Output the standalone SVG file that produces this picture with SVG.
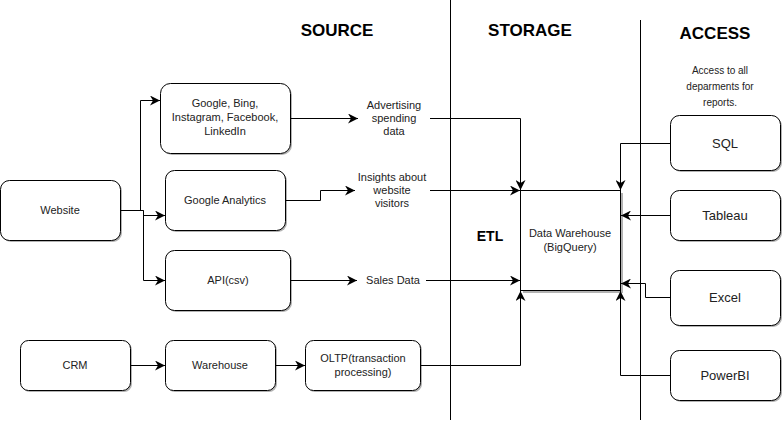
<svg xmlns="http://www.w3.org/2000/svg" width="783" height="422" viewBox="0 0 783 422">
<style>
.n{fill:#fff;stroke:#000;stroke-width:1}
.sh{fill:#b3b3b3;stroke:none}
.t{font-family:"Liberation Sans",Arial,sans-serif;font-size:11px;fill:#222;text-anchor:middle}
.tl{font-family:"Liberation Sans",Arial,sans-serif;font-size:13px;fill:#222;text-anchor:middle}
.h{font-family:"Liberation Sans",Arial,sans-serif;font-size:17px;font-weight:bold;fill:#000;text-anchor:middle}
.c{fill:none;stroke:#000;stroke-width:1}
</style>
<defs>
<marker id="a" viewBox="0 0 10 10" refX="10" refY="5" markerWidth="10" markerHeight="10" markerUnits="userSpaceOnUse" orient="auto">
<path d="M0,0 L10,5 L0,10 L3,5 Z" fill="#000"/>
</marker>
</defs>
<rect width="783" height="422" fill="#fff"/>
<g id="dividers">
<line x1="450.5" y1="0" x2="450.5" y2="420" stroke="#000"/>
<line x1="640.5" y1="20" x2="640.5" y2="420" stroke="#000"/>
</g>
<g id="titles">
<text class="h" x="337" y="36">SOURCE</text>
<text class="h" x="530" y="36">STORAGE</text>
<text class="h" x="715" y="39">ACCESS</text>
<text class="h" x="490" y="241" style="font-size:14px">ETL</text>
<text class="t" x="720" y="74" style="font-size:10px">Access to all</text>
<text class="t" x="720" y="90" style="font-size:10px">deparments for</text>
<text class="t" x="720" y="106" style="font-size:10px">reports.</text>
</g>
<g id="labels">
<text class="t" x="394" y="109">Advertising</text>
<text class="t" x="394" y="122">spending</text>
<text class="t" x="394" y="135">data</text>
<text class="t" x="392" y="181">Insights about</text>
<text class="t" x="392" y="194">website</text>
<text class="t" x="392" y="207">visitors</text>
<text class="t" x="393" y="284">Sales Data</text>
</g>
<g id="website"><rect class="sh" x="2" y="182" width="120" height="60" rx="9"/><rect class="n" x="0.5" y="180.5" width="120" height="60" rx="9"/><text class="t" x="60" y="214">Website</text></g>
<g id="ads"><rect class="sh" x="162" y="85" width="130" height="70" rx="10"/><rect class="n" x="160.5" y="83.5" width="130" height="70" rx="10"/><text class="t" x="225" y="107">Google, Bing,</text><text class="t" x="225" y="121">Instagram, Facebook,</text><text class="t" x="225" y="135">LinkedIn</text></g>
<g id="ga"><rect class="sh" x="167" y="172" width="120" height="60" rx="9"/><rect class="n" x="165.5" y="170.5" width="120" height="60" rx="9"/><text class="t" x="225" y="204">Google Analytics</text></g>
<g id="api"><rect class="sh" x="167" y="252" width="125" height="60" rx="9"/><rect class="n" x="165.5" y="250.5" width="125" height="60" rx="9"/><text class="t" x="228" y="284">API(csv)</text></g>
<g id="crm"><rect class="sh" x="22" y="342" width="110" height="50" rx="8"/><rect class="n" x="20.5" y="340.5" width="110" height="50" rx="8"/><text class="t" x="75" y="369">CRM</text></g>
<g id="warehouse"><rect class="sh" x="167" y="342" width="110" height="50" rx="8"/><rect class="n" x="165.5" y="340.5" width="110" height="50" rx="8"/><text class="t" x="220" y="369">Warehouse</text></g>
<g id="oltp"><rect class="sh" x="307" y="342" width="115" height="50" rx="8"/><rect class="n" x="305.5" y="340.5" width="115" height="50" rx="8"/><text class="t" x="363" y="362">OLTP(transaction</text><text class="t" x="363" y="376">processing)</text></g>
<g id="dw"><rect class="sh" x="523" y="193" width="100" height="100"/><rect class="n" x="520.5" y="190.5" width="100" height="100"/><text class="t" x="570" y="237">Data Warehouse</text><text class="t" x="570" y="251">(BigQuery)</text></g>
<g id="sql"><rect class="sh" x="672" y="117" width="110" height="55" rx="9"/><rect class="n" x="670.5" y="115.5" width="110" height="55" rx="9"/><text class="tl" x="725" y="148">SQL</text></g>
<g id="tableau"><rect class="sh" x="672" y="192" width="110" height="50" rx="9"/><rect class="n" x="670.5" y="190.5" width="110" height="50" rx="9"/><text class="tl" x="725" y="220">Tableau</text></g>
<g id="excel"><rect class="sh" x="672" y="272" width="110" height="55" rx="9"/><rect class="n" x="670.5" y="270.5" width="110" height="55" rx="9"/><text class="tl" x="725" y="302">Excel</text></g>
<g id="powerbi"><rect class="sh" x="672" y="352" width="110" height="50" rx="9"/><rect class="n" x="670.5" y="350.5" width="110" height="50" rx="9"/><text class="tl" x="725" y="380">PowerBI</text></g>
<g id="connectors">
<path class="c" d="M120.5,210.5 H140.5 V100.5 H160" marker-end="url(#a)"/>
<path class="c" d="M120.5,210.5 H143.5 V215.5 H165" marker-end="url(#a)"/>
<path class="c" d="M143.5,210.5 V280.5 H165" marker-end="url(#a)"/>
<path class="c" d="M290.5,118.5 H358" marker-end="url(#a)"/>
<path class="c" d="M430,118.5 H520.5 V190" marker-end="url(#a)"/>
<path class="c" d="M285.5,200.5 H320.5 V190.5 H355" marker-end="url(#a)"/>
<path class="c" d="M430,190.5 H520" marker-end="url(#a)"/>
<path class="c" d="M290.5,280.5 H357" marker-end="url(#a)"/>
<path class="c" d="M426,280.5 H520" marker-end="url(#a)"/>
<path class="c" d="M130.5,365.5 H165" marker-end="url(#a)"/>
<path class="c" d="M275.5,365.5 H305" marker-end="url(#a)"/>
<path class="c" d="M420.5,365.5 H520.5 V291" marker-end="url(#a)"/>
<path class="c" d="M670.5,143.5 H620.5 V190" marker-end="url(#a)"/>
<path class="c" d="M670.5,215.5 H621" marker-end="url(#a)"/>
<path class="c" d="M670.5,297.5 H645.5 V283.5 H621" marker-end="url(#a)"/>
<path class="c" d="M670.5,375.5 H620.5 V291" marker-end="url(#a)"/>
</g>
</svg>
